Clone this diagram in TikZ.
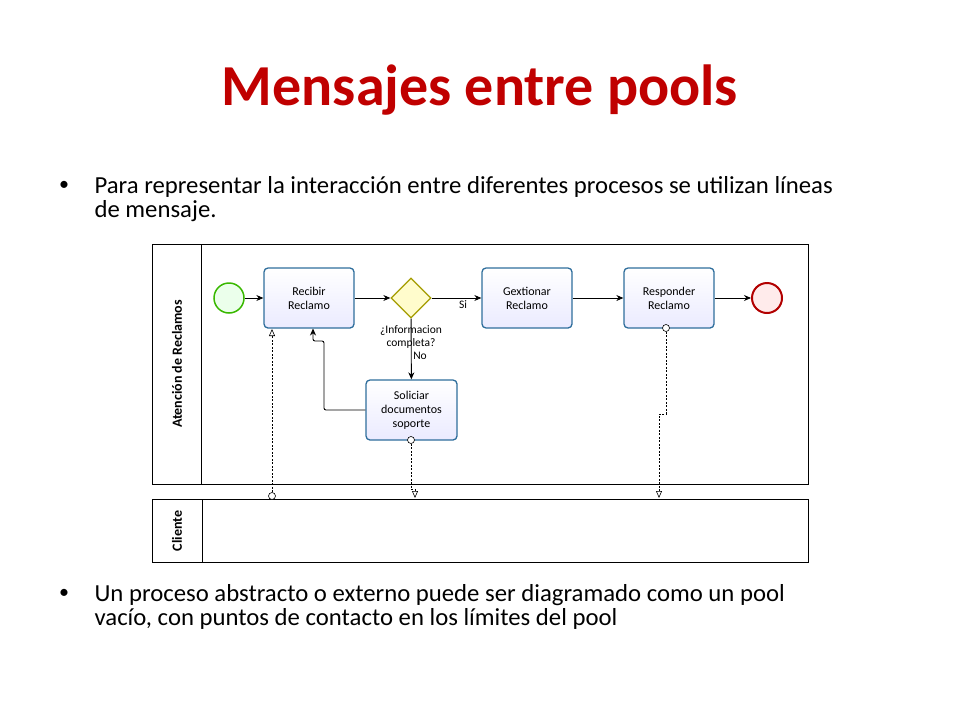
\documentclass[tikz,border=0pt]{standalone}
\usepackage{fontspec}
\setmainfont{Carlito}
\usetikzlibrary{shapes.geometric,arrows.meta,calc}
\definecolor{ttl}{HTML}{C00000}
\definecolor{tb}{HTML}{2F6E9C}
\begin{document}
\begin{tikzpicture}[x=1pt,y=-1pt,
  task/.style={draw=tb,line width=1.3pt,rounded corners=4pt,top color=white,bottom color=blue!8,minimum width=90pt,minimum height=60pt,align=center,font=\fontsize{12}{14}\selectfont,inner sep=1pt},
  seq/.style={-{Stealth[length=7pt,width=6pt]},line width=0.9pt},
  msg/.style={dashed,line width=0.6pt,dash pattern=on 2pt off 1.5pt},
  bul/.style={anchor=west,font=\fontsize{24.5}{23.5}\selectfont,align=left},
  lbl/.style={font=\fontsize{11.5}{13.5}\selectfont}]
\useasboundingbox (0,0) rectangle (960,720);
\node[font=\fontsize{58}{64}\selectfont\bfseries,text=ttl] (title) at (480,90) {Mensajes entre pools};
\node[font=\fontsize{20}{20}\selectfont] (b1) at (64,186) {•};
\node[bul,anchor=north west,xscale=1.01] (t1) at (91,173) {Para representar la interacción entre diferentes procesos se utilizan líneas\\de mensaje.};
\node[font=\fontsize{20}{20}\selectfont] (b2) at (64,594) {•};
\node[bul,anchor=north west,xscale=1.01] (t2) at (91,581) {Un proceso abstracto o externo puede ser diagramado como un pool\\vacío, con puntos de contacto en los límites del pool};
% pools
\draw[line width=0.8pt] (152,244) rectangle (808,484);
\draw[line width=0.8pt] (201,244) -- (201,484);
\draw[line width=0.8pt] (152,499) rectangle (808,562);
\draw[line width=0.8pt] (202,499) -- (202,562);
\node[rotate=90,font=\fontsize{14}{15}\selectfont\bfseries] (l1) at (177,364) {Atención de Reclamos};
\node[rotate=90,font=\fontsize{14}{15}\selectfont\bfseries] (l2) at (177,531) {Cliente};
% nodes
\node[circle,draw=green!60!black!70!lime,line width=1.5pt,fill=green!8,minimum size=30pt,inner sep=0] (s) at (229,298) {};
\node[task] (r) at (309,298) {Recibir\\Reclamo};
\node[diamond,draw=olive!80!yellow,line width=1.3pt,fill=yellow!20,minimum width=40pt,minimum height=40pt,inner sep=0] (g) at (411,298) {};
\node[task] (ge) at (527,298) {Gextionar\\Reclamo};
\node[task] (rp) at (669,298) {Responder\\Reclamo};
\node[circle,draw=red!70!black,line width=2pt,fill=red!8,minimum size=30pt,inner sep=0] (e) at (767,298) {};
\node[task,minimum width=91pt] (so) at (411.5,410) {Soliciar\\documentos\\soporte};
\draw[seq] (s) -- (r);
\draw[seq] (r) -- (g);
\draw[seq] (g) -- (ge);
\draw[seq] (ge) -- (rp);
\draw[seq] (rp) -- (e);
\draw[seq] (g) -- (so);
\draw[seq,rounded corners=2pt] (so.west) -- (324,410) -- (324,341) -- (313,341) -- (313,328.5);
\node[lbl] (si) at (463,305) {Si};
\node[lbl,align=center] (q) at (411,337) {¿Informacion\\completa?};
\node[lbl] (no) at (420,356) {No};
% message flows
\tikzset{oc/.style={circle,draw,fill=white,inner sep=0,minimum size=7pt,line width=0.6pt}}
\node[oc] (c1) at (272,496) {};
\coordinate (a1) at (272,329);
\draw[msg,-{Triangle[open,length=7pt,width=6pt]}] (c1) -- (a1);
\node[oc] (c2) at (411,440) {};
\coordinate (a2) at (415,498);
\draw[msg,-{Triangle[open,length=7pt,width=6pt]}] (c2) -- (411,489) -- (415,489) -- (a2);
\node[oc] (c3) at (666,328) {};
\coordinate (a3) at (659,498);
\draw[msg,-{Triangle[open,length=7pt,width=6pt]}] (c3) -- (666,414) -- (659,414) -- (a3);
\end{tikzpicture}
\end{document}
